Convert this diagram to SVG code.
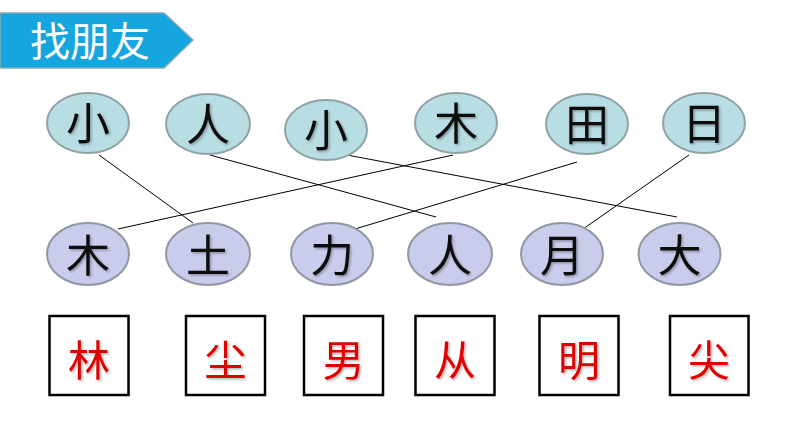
<svg xmlns="http://www.w3.org/2000/svg" width="794" height="447" viewBox="0 0 794 447">
<style>
.top{fill:#B8DDE2;stroke:#8FA3A6;stroke-width:2}
.bot{fill:#CACCEC;stroke:#8F98A3;stroke-width:2}
.ch{font-family:"Noto Sans CJK SC","Noto Sans CJK TC",sans-serif;font-size:44px;fill:#111;text-anchor:middle;filter:url(#sh)}
.red{font-family:"Noto Sans CJK SC","Noto Sans CJK TC",sans-serif;font-size:42px;fill:#E00000;text-anchor:middle;filter:url(#sh)}
.sq{fill:#fff;stroke:#000;stroke-width:2.5}
.ln{stroke:#000;stroke-width:1;fill:none}
</style>
<defs>
<filter id="sh" x="-20%" y="-20%" width="140%" height="140%">
<feDropShadow dx="1.5" dy="1.5" stdDeviation="0.8" flood-color="#000" flood-opacity="0.3"/>
</filter>
</defs>
<rect width="794" height="447" fill="#fff"/>
<g id="title">
<polygon points="0,13 164,13 193,40 164,68 0,68" fill="#15A6E0" stroke="#8AA9B6" stroke-width="1.5"/>
<text x="90" y="56" font-family="'Noto Sans CJK SC','Noto Sans CJK TC',sans-serif" font-size="40" fill="#fff" text-anchor="middle">找朋友</text>
</g>
<g id="connectors">
<line class="ln" x1="99" y1="155" x2="193" y2="223"/>
<line class="ln" x1="210" y1="155" x2="436" y2="217"/>
<line class="ln" x1="347" y1="155" x2="677" y2="217"/>
<line class="ln" x1="453" y1="155" x2="118" y2="229"/>
<line class="ln" x1="577" y1="162" x2="355" y2="229"/>
<line class="ln" x1="689" y1="155" x2="583" y2="229"/>
</g>
<g id="t1"><ellipse class="top" cx="88" cy="123" rx="41" ry="30"/><text class="ch" x="88" y="140">小</text></g>
<g id="t2"><ellipse class="top" cx="208" cy="124" rx="42" ry="30"/><text class="ch" x="208" y="141">人</text></g>
<g id="t3"><ellipse class="top" cx="326" cy="130" rx="41" ry="30"/><text class="ch" x="326" y="147">小</text></g>
<g id="t4"><ellipse class="top" cx="456" cy="123" rx="41" ry="30"/><text class="ch" x="456" y="140">木</text></g>
<g id="t5"><ellipse class="top" cx="587" cy="124" rx="41" ry="30"/><text class="ch" x="587" y="141">田</text></g>
<g id="t6"><ellipse class="top" cx="704" cy="123" rx="41" ry="30"/><text class="ch" x="704" y="140">日</text></g>
<g id="b1"><ellipse class="bot" cx="88" cy="254" rx="41" ry="31"/><text class="ch" x="88" y="272">木</text></g>
<g id="b2"><ellipse class="bot" cx="208" cy="254" rx="42" ry="31"/><text class="ch" x="208" y="272">土</text></g>
<g id="b3"><ellipse class="bot" cx="332" cy="254" rx="41" ry="31"/><text class="ch" x="332" y="272">力</text></g>
<g id="b4"><ellipse class="bot" cx="450" cy="254" rx="42" ry="31"/><text class="ch" x="450" y="272">人</text></g>
<g id="b5"><ellipse class="bot" cx="562" cy="254" rx="41" ry="31"/><text class="ch" x="562" y="272">月</text></g>
<g id="b6"><ellipse class="bot" cx="679.5" cy="254" rx="41" ry="31"/><text class="ch" x="679.5" y="272">大</text></g>
<g id="s1"><rect class="sq" x="49.5" y="316" width="79" height="79"/><text class="red" x="89" y="376">林</text></g>
<g id="s2"><rect class="sq" x="186" y="316" width="79" height="79"/><text class="red" x="225.5" y="376">尘</text></g>
<g id="s3"><rect class="sq" x="304" y="316" width="79" height="79"/><text class="red" x="343.5" y="376">男</text></g>
<g id="s4"><rect class="sq" x="415.5" y="316" width="79" height="79"/><text class="red" x="455" y="376">从</text></g>
<g id="s5"><rect class="sq" x="539.5" y="316" width="79" height="79"/><text class="red" x="579" y="376">明</text></g>
<g id="s6"><rect class="sq" x="670" y="316" width="78.5" height="79"/><text class="red" x="709" y="376">尖</text></g>
</svg>
